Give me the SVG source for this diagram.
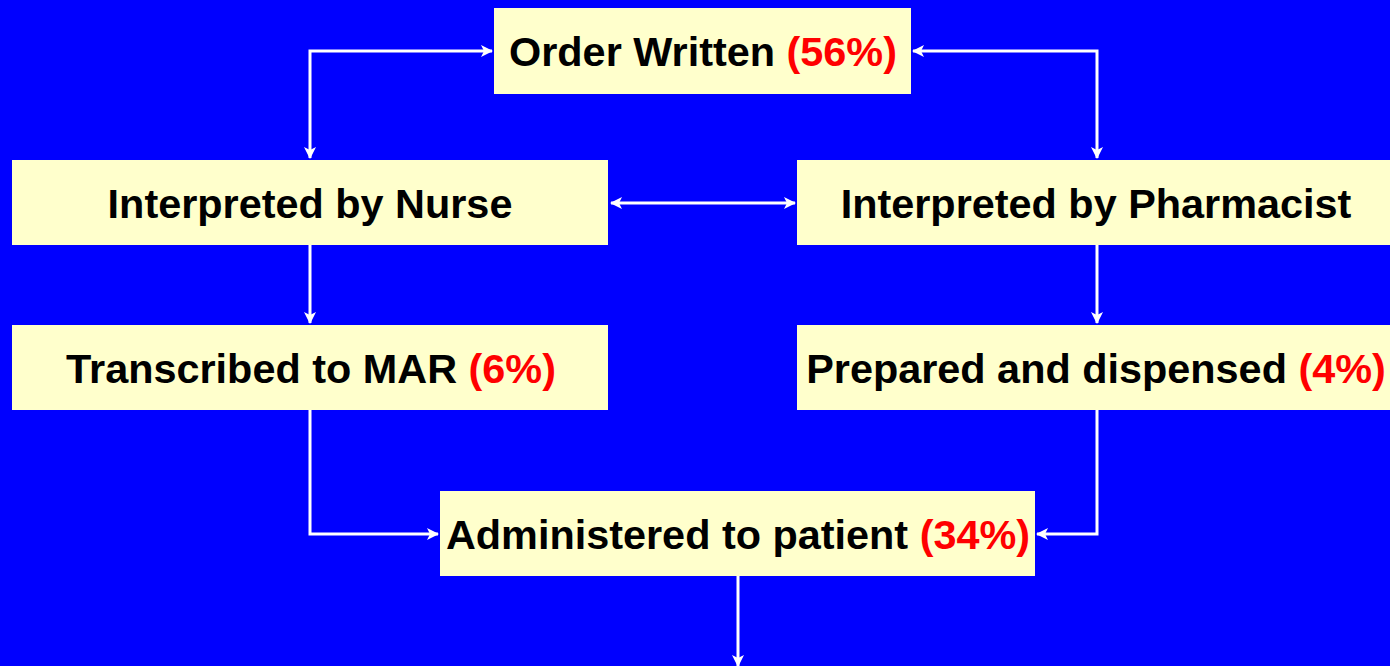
<svg xmlns="http://www.w3.org/2000/svg" width="1390" height="666" viewBox="0 0 1390 666">
<defs>
<style>
.box{fill:#FFFFCC;}
.lbl{font-family:"Liberation Sans",Arial,sans-serif;font-size:41.4px;font-weight:bold;fill:#000;text-anchor:middle;}
.pct{fill:#FF0000;}
.conn{fill:none;stroke:#FFFFFF;stroke-width:3;}
</style>
<marker id="ah" viewBox="0 0 12 12" refX="11" refY="6" markerWidth="12" markerHeight="12" markerUnits="userSpaceOnUse" orient="auto-start-reverse">
<path d="M0,0 L12,6 L0,12 L3,6 Z" fill="#FFFFFF"/>
</marker>
</defs>
<rect width="1390" height="666" fill="#0000FF"/>
<g id="connectors">
<path class="conn" d="M310,158 L310,51 L492,51" marker-start="url(#ah)" marker-end="url(#ah)"/>
<path class="conn" d="M1097,158 L1097,51 L913,51" marker-start="url(#ah)" marker-end="url(#ah)"/>
<path class="conn" d="M611,203 L795,203" marker-start="url(#ah)" marker-end="url(#ah)"/>
<path class="conn" d="M310,245 L310,323" marker-end="url(#ah)"/>
<path class="conn" d="M1097,245 L1097,323" marker-end="url(#ah)"/>
<path class="conn" d="M310,410 L310,534 L438,534" marker-end="url(#ah)"/>
<path class="conn" d="M1097,410 L1097,534 L1037,534" marker-end="url(#ah)"/>
<path class="conn" d="M738,576 L738,666" marker-end="url(#ah)"/>
</g>
<g id="order">
<rect class="box" x="494" y="8" width="417" height="86"/>
<text class="lbl" x="703" y="66">Order Written <tspan class="pct">(56%)</tspan></text>
</g>
<g id="nurse">
<rect class="box" x="12" y="160" width="596" height="85"/>
<text class="lbl" x="310" y="218">Interpreted by Nurse</text>
</g>
<g id="pharmacist">
<rect class="box" x="797" y="160" width="600" height="85"/>
<text class="lbl" x="1096" y="218">Interpreted by Pharmacist</text>
</g>
<g id="mar">
<rect class="box" x="12" y="325" width="596" height="85"/>
<text class="lbl" x="311" y="383">Transcribed to MAR <tspan class="pct">(6%)</tspan></text>
</g>
<g id="prepared">
<rect class="box" x="797" y="325" width="600" height="85"/>
<text class="lbl" x="1096" y="383">Prepared and dispensed <tspan class="pct">(4%)</tspan></text>
</g>
<g id="administered">
<rect class="box" x="440" y="491" width="595" height="85"/>
<text class="lbl" x="738" y="549">Administered to patient <tspan class="pct">(34%)</tspan></text>
</g>
</svg>
